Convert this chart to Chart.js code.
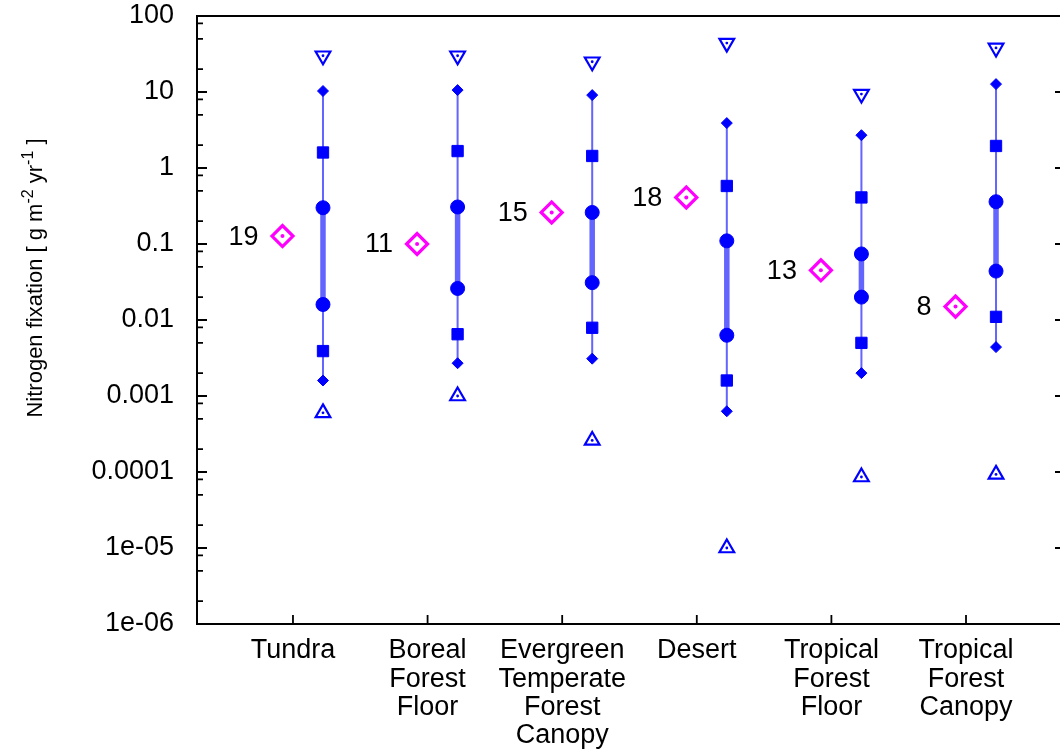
<!DOCTYPE html>
<html>
<head>
<meta charset="utf-8">
<title>Nitrogen fixation by biome</title>
<script src="https://cdn.jsdelivr.net/npm/chart.js@4.4.1/dist/chart.umd.min.js"></script>
<style>
  html, body { margin: 0; padding: 0; background: #fff; overflow: hidden; }
  #wrap { width: 1066px; height: 751px; }
</style>
</head>
<body>
<div id="wrap"><canvas id="nfix-chart" width="1066" height="751"></canvas></div>
<script>
// biome names (multi-line tick labels)
const CATEGORIES = [
    ['Tundra'],
    ['Boreal', 'Forest', 'Floor'],
    ['Evergreen', 'Temperate', 'Forest', 'Canopy'],
    ['Desert'],
    ['Tropical', 'Forest', 'Floor'],
    ['Tropical', 'Forest', 'Canopy']
];

// number of studies, printed next to the magenta marker
const STUDY_COUNTS = [19, 11, 15, 18, 13, 8];
const MEAN_VALUES = [0.127, 0.1, 0.26, 0.41, 0.045, 0.015];

// distribution per biome (g m-2 yr-1), top to bottom
const MAX_VALUES   = [30, 30, 25, 44, 9.4, 38];
const UPPER_WHISK  = [10.3, 10.6, 9.1, 3.9, 2.7, 12.7];
const UPPER_BOX    = [1.6, 1.67, 1.44, 0.58, 0.41, 1.95];
const UPPER_CORE   = [0.3, 0.307, 0.26, 0.11, 0.074, 0.36];
const LOWER_CORE   = [0.016, 0.026, 0.031, 0.0063, 0.02, 0.044];
const LOWER_BOX    = [0.0039, 0.0065, 0.0079, 0.0016, 0.005, 0.011];
const LOWER_WHISK  = [0.0016, 0.0027, 0.0031, 0.00063, 0.002, 0.0044];
const MIN_VALUES   = [0.0006, 0.001, 0.00026, 0.00001, 0.000086, 0.000093];

// y axis ticks
const Y_TICKS = [1e-6, 1e-5, 1e-4, 1e-3, 1e-2, 1e-1, 1, 10, 100];
const Y_TICK_LABELS = ['1e-06', '1e-05', '0.0001', '0.001', '0.01', '0.1', '1', '10', '100'];
const Y_MINOR = [2, 5, 8];

const BLUE = '#0000ff';
const LINE_BLUE = '#6464ff';
const MAGENTA = '#ff00ff';
const FONT = 'Liberation Sans, Arial, Helvetica, sans-serif';

// horizontal shift of each series from its category position
const STATS_OFFSET = 0.223;
const MEAN_OFFSET = -0.078;

Chart.defaults.font.family = FONT;
Chart.defaults.color = '#000';

const toPoints = (vals, off) => vals.map((v, i) => ({ x: i + 1 + off, y: v }));
const toSegments = (lo, hi, off) => lo.flatMap((v, i) => [
    { x: i + 1 + off, y: v },
    { x: i + 1 + off, y: hi[i] },
    { x: i + 1 + off, y: null }
]);

// frame, inward ticks, count labels, axis title
const decorPlugin = {
    id: 'decor',
    afterDraw(chart) {
        const { ctx, chartArea: a, scales } = chart;
        const ys = scales.y, xs = scales.x;
        ctx.save();
        ctx.strokeStyle = '#000';
        ctx.lineWidth = 1.8;

        // left axis: decades + minor ticks, right axis: decades only
        ctx.beginPath();
        Y_TICKS.forEach((t, k) => {
            const py = ys.getPixelForValue(t);
            ctx.moveTo(a.left, py); ctx.lineTo(a.left + 10, py);
            ctx.moveTo(a.right, py); ctx.lineTo(a.right - 9, py);
            if (k < Y_TICKS.length - 1) {
                Y_MINOR.forEach(m => {
                    const my = ys.getPixelForValue(t * m);
                    ctx.moveTo(a.left, my); ctx.lineTo(a.left + 6, my);
                });
            }
        });
        // bottom category ticks
        CATEGORIES.forEach((c, i) => {
            const px = xs.getPixelForValue(i + 1);
            ctx.moveTo(px, a.bottom); ctx.lineTo(px, a.bottom - 9);
        });
        ctx.stroke();

        ctx.lineWidth = 2;
        ctx.strokeRect(a.left, a.top, a.right - a.left, a.bottom - a.top);

        // study counts
        ctx.fillStyle = '#000';
        ctx.font = '27px ' + FONT;
        ctx.textAlign = 'right';
        ctx.textBaseline = 'middle';
        STUDY_COUNTS.forEach((n, i) => {
            const px = xs.getPixelForValue(i + 1 + MEAN_OFFSET);
            const py = ys.getPixelForValue(MEAN_VALUES[i]);
            ctx.fillText(String(n), px - 24, py + 1);
        });

        // rotated y title with superscripts
        const parts = [
            ['Nitrogen fixation [ g m', false], ['-2', true],
            [' yr', false], ['-1', true], [' ]', false]
        ];
        const big = '22px ' + FONT, small = '16px ' + FONT;
        let total = 0;
        parts.forEach(([s, sup]) => { ctx.font = sup ? small : big; total += ctx.measureText(s).width; });
        ctx.translate(34, 278);
        ctx.rotate(-Math.PI / 2);
        ctx.textAlign = 'left';
        ctx.textBaseline = 'alphabetic';
        let cx = -total / 2;
        parts.forEach(([s, sup]) => {
            ctx.font = sup ? small : big;
            ctx.fillText(s, cx, sup ? -1 : 8);
            cx += ctx.measureText(s).width;
        });
        ctx.restore();
    }
};

const ctx = document.getElementById('nfix-chart').getContext('2d');

new Chart(ctx, {
    type: 'scatter',
    data: {
        datasets: [
            { // magenta centre dot
                data: toPoints(MEAN_VALUES, MEAN_OFFSET), pointStyle: 'circle',
                pointRadius: 2, backgroundColor: MAGENTA, borderWidth: 0, order: 0
            },
            { // magenta open diamond
                data: toPoints(MEAN_VALUES, MEAN_OFFSET), pointStyle: 'rectRot',
                pointRadius: 10.5, backgroundColor: 'rgba(0,0,0,0)', borderColor: MAGENTA,
                borderWidth: 3.2, order: 1
            },
            { // triangle centre dots
                data: toPoints(MAX_VALUES, STATS_OFFSET).concat(toPoints(MIN_VALUES, STATS_OFFSET)),
                pointStyle: 'circle', pointRadius: 1.4, backgroundColor: BLUE, borderWidth: 0, order: 0
            },
            { // max: open triangle down
                data: toPoints(MAX_VALUES, STATS_OFFSET), pointStyle: 'triangle', pointRotation: 180,
                pointRadius: 8.5, backgroundColor: 'rgba(0,0,0,0)', borderColor: BLUE, borderWidth: 2.2, order: 1
            },
            { // min: open triangle up
                data: toPoints(MIN_VALUES, STATS_OFFSET), pointStyle: 'triangle',
                pointRadius: 8.5, backgroundColor: 'rgba(0,0,0,0)', borderColor: BLUE, borderWidth: 2.2, order: 1
            },
            { // whisker ends: small filled diamonds
                data: toPoints(UPPER_WHISK, STATS_OFFSET).concat(toPoints(LOWER_WHISK, STATS_OFFSET)),
                pointStyle: 'rectRot', pointRadius: 5.5, backgroundColor: BLUE, borderColor: BLUE,
                borderWidth: 1, order: 1
            },
            { // filled squares
                data: toPoints(UPPER_BOX, STATS_OFFSET).concat(toPoints(LOWER_BOX, STATS_OFFSET)),
                pointStyle: 'rect', pointRadius: 8, backgroundColor: BLUE, borderColor: BLUE,
                borderWidth: 1, order: 1
            },
            { // filled circles
                data: toPoints(UPPER_CORE, STATS_OFFSET).concat(toPoints(LOWER_CORE, STATS_OFFSET)),
                pointStyle: 'circle', pointRadius: 7, backgroundColor: BLUE, borderColor: BLUE,
                borderWidth: 1, order: 1
            },
            { // thick line between circles
                data: toSegments(LOWER_CORE, UPPER_CORE, STATS_OFFSET), showLine: true, spanGaps: false,
                borderColor: LINE_BLUE, borderWidth: 5.5, pointRadius: 0, order: 10
            },
            { // thin line between whisker ends
                data: toSegments(LOWER_WHISK, UPPER_WHISK, STATS_OFFSET), showLine: true, spanGaps: false,
                borderColor: LINE_BLUE, borderWidth: 2, pointRadius: 0, order: 20
            }
        ]
    },
    options: {
        responsive: false,
        animation: false,
        layout: { autoPadding: false, padding: { left: 0, top: 16, right: 2, bottom: 0 } },
        plugins: {
            legend: { display: false },
            tooltip: { enabled: false }
        },
        scales: {
            x: {
                type: 'linear',
                min: 0.287,
                max: 6.728,
                border: { display: false },
                grid: { display: false, drawTicks: false },
                afterBuildTicks: (s) => { s.ticks = CATEGORIES.map((c, i) => ({ value: i + 1 })); },
                afterFit: (s) => { s.height = 127; s.paddingLeft = 0; s.paddingRight = 0; },
                ticks: {
                    autoSkip: false,
                    maxRotation: 0,
                    padding: 13,
                    font: { size: 27, lineHeight: 1.04 },
                    callback: (v) => CATEGORIES[Math.round(v) - 1] || ''
                }
            },
            y: {
                type: 'logarithmic',
                min: 1e-6,
                max: 100,
                border: { display: false },
                grid: { display: false, drawTicks: false },
                afterBuildTicks: (s) => { s.ticks = Y_TICKS.map(v => ({ value: v })); },
                afterFit: (s) => { s.width = 197; s.paddingTop = 0; s.paddingBottom = 0; },
                ticks: {
                    padding: 23,
                    font: { size: 27 },
                    callback: (v) => {
                        const k = Y_TICKS.findIndex(t => Math.abs(Math.log10(t) - Math.log10(v)) < 1e-6);
                        return k >= 0 ? Y_TICK_LABELS[k] : '';
                    }
                }
            }
        }
    },
    plugins: [decorPlugin]
});
</script>
</body>
</html>
